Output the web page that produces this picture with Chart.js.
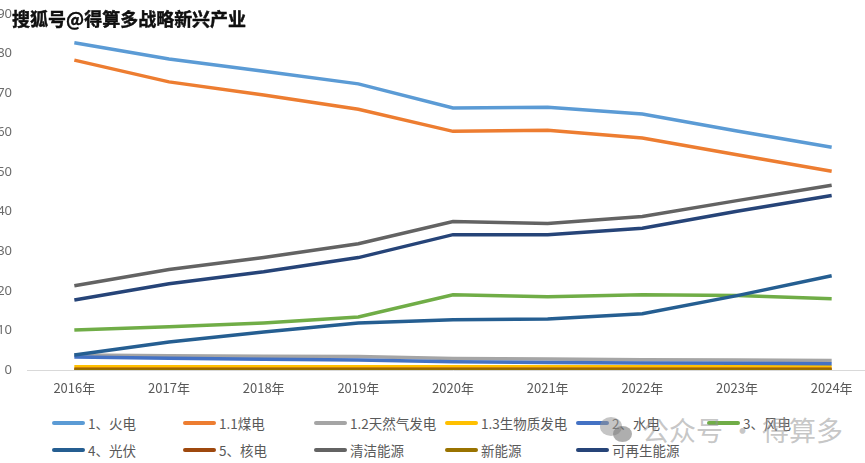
<!DOCTYPE html>
<html>
<head>
<meta charset="utf-8">
<script src="https://cdn.jsdelivr.net/npm/chart.js@4.4.1/dist/chart.umd.min.js"></script>
<style>
  html, body { margin: 0; padding: 0; background: #fff; overflow: hidden; width: 865px; height: 463px; position: relative; font-family: "Noto Sans CJK SC", "Noto Sans", sans-serif; }
  #wrap { position: absolute; left: -14px; top: -9px; width: 894px; height: 410px; }
  #legend { position: absolute; left: 52px; top: 412px; display: grid; grid-template-columns: repeat(6, 131px); row-gap: 5px; }
  .li { display: flex; align-items: center; height: 22px; font-size: 13.5px; color: #595959; white-space: nowrap; }
  .li span.sw { display: inline-block; width: 33px; height: 4px; border-radius: 2px; margin-right: 3px; }
  #title { position: absolute; left: 12px; top: 5px; font-size: 18px; font-weight: bold; color: #111; -webkit-text-stroke: 0.4px #000; text-shadow: 0 0 2px #fff, 0 0 2px #fff, 0 0 1px #fff; }
  #wm { position: absolute; left: 600px; top: 410px; font-size: 27px; color: rgba(150,150,150,0.55); white-space: nowrap; display: flex; align-items: center; }
  #wm .ic { width: 34px; height: 30px; position: relative; margin-right: 8px; }
  #wm .ic i { position: absolute; border-radius: 50%; background: rgba(150,150,150,0.55); }
</style>
</head>
<body>
<div id="wrap"><canvas id="c"></canvas></div>
<div id="legend"></div>
<div id="title">搜狐号@得算多战略新兴产业</div>
<div id="wm"><div class="ic"><i style="left:0;top:2px;width:22px;height:19px"></i><i style="left:13px;top:11px;width:19px;height:16px;background:rgba(120,120,120,0.6)"></i></div>公众号 · 得算多</div>
<script>
const categories = ["2016年","2017年","2018年","2019年","2020年","2021年","2022年","2023年","2024年"];
const yTicks = [0,10,20,30,40,50,60,70,80,90];

const seriesNames = ["1、火电","1.1煤电","1.2天然气发电","1.3生物质发电","2、水电","3、风电","4、光伏","5、核电","清洁能源","新能源","可再生能源"];

const thermal    = [82.7, 78.6, 75.5, 72.3, 66.2, 66.4, 64.7, 60.4, 56.3];
const coal       = [78.3, 72.8, 69.5, 65.9, 60.3, 60.6, 58.6, 54.4, 50.2];
const gas        = [3.8, 3.6, 3.5, 3.4, 2.9, 2.8, 2.6, 2.5, 2.4];
const biomass    = [0.8, 0.8, 0.8, 0.8, 0.8, 0.8, 0.8, 0.8, 0.8];
const hydro      = [3.3, 3.0, 2.7, 2.5, 2.1, 1.9, 1.8, 1.7, 1.6];
const wind       = [10.1, 10.9, 11.9, 13.4, 19.0, 18.5, 19.0, 18.8, 18.0];
const solar      = [3.8, 7.1, 9.6, 11.9, 12.7, 12.9, 14.2, 18.8, 23.8];
const nuclear    = [0.2, 0.2, 0.2, 0.2, 0.2, 0.2, 0.2, 0.2, 0.2];
const clean      = [21.3, 25.4, 28.4, 31.9, 37.5, 37.0, 38.8, 42.8, 46.7];
const newEnergy  = [0, 0, 0, 0, 0, 0, 0, 0, 0];
const renewable  = [17.7, 21.8, 24.8, 28.4, 34.2, 34.2, 35.8, 40.1, 44.1];

const seriesValues = [thermal, coal, gas, biomass, hydro, wind, solar, nuclear, clean, newEnergy, renewable];
const colors = ["#5B9BD5","#ED7D31","#A5A5A5","#FFC000","#4472C4","#70AD47","#255E91","#9E480E","#636363","#997300","#264478"];

const datasets = seriesNames.map((n, i) => ({
  label: n,
  data: seriesValues[i],
  borderColor: colors[i],
  backgroundColor: colors[i],
  borderWidth: 3.5,
  pointRadius: 0,
  tension: 0,
  fill: false,
  order: -i,
  borderCapStyle: 'butt'
}));

const chart = new Chart(document.getElementById('c'), {
  type: 'line',
  data: { labels: categories, datasets },
  options: {
    responsive: true,
    maintainAspectRatio: false,
    animation: false,
    layout: { padding: { top: 6, right: 1, left: 0, bottom: 0 } },
    plugins: { legend: { display: false }, tooltip: { enabled: false } },
    scales: {
      x: {
        offset: true,
        grid: { display: false, drawTicks: false },
        border: { display: true, color: '#D9D9D9', width: 1 },
        ticks: { color: '#595959', font: { size: 13, family: '"Noto Sans CJK SC", sans-serif' }, padding: 10, maxRotation: 0 },
        afterFit: (s) => { s.height = 31; }
      },
      y: {
        min: 0, max: 90,
        afterBuildTicks: (s) => { s.ticks = yTicks.map(v => ({ value: v })); },
        grid: { display: false, drawTicks: false },
        border: { display: false },
        ticks: { color: '#6b6b6b', font: { size: 13, family: '"Noto Sans", sans-serif' }, padding: 15 },
        afterFit: (s) => { s.width = 41; }
      }
    }
  }
});

const lg = document.getElementById('legend');
chart.data.datasets.forEach(ds => {
  const d = document.createElement('div');
  d.className = 'li';
  d.innerHTML = '<span class="sw" style="background:' + ds.borderColor + '"></span>' + ds.label;
  lg.appendChild(d);
});
</script>
</body>
</html>
